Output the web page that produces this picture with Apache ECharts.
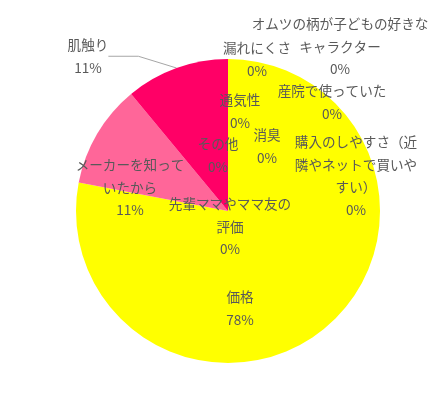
<!DOCTYPE html>
<html>
<head>
<meta charset="utf-8">
<script src="https://cdn.jsdelivr.net/npm/echarts@6/dist/echarts.min.js"></script>
<style>
  html, body { margin: 0; padding: 0; background: #fff; }
</style>
</head>
<body>
<div id="main" style="width: 438px;height:418px;"></div>
<script>
// categories (clockwise from 12 o'clock) and their share in %
var categories = ['価格', 'メーカーを知っていたから', '肌触り', '漏れにくさ',
  'オムツの柄が子どもの好きなキャラクター', '通気性', '産院で使っていた', '消臭', 'その他',
  '購入のしやすさ（近隣やネットで買いやすい）', '先輩ママやママ友の評価'];
var values = [78, 11, 11, 0, 0, 0, 0, 0, 0, 0, 0];
// how each label name is wrapped in the picture
var wrappedNames = ['価格', 'メーカーを知って\nいたから', '肌触り', '漏れにくさ',
  'オムツの柄が子どもの好きな\nキャラクター', '通気性', '産院で使っていた', '消臭', 'その他',
  '購入のしやすさ（近\n隣やネットで買いや\nすい）', '先輩ママやママ友の\n評価'];
var colors = ['#FFFF00', '#FF6699', '#FF0066', '#FFFF00', '#FFFF00', '#FFFF00',
  '#FFFF00', '#FFFF00', '#FFFF00', '#FFFF00', '#FFFF00'];

// label placement (centre x, centre y of first line)
var labelPos = [[240, 297], [130, 165], [88, 45], [257, 48], [340, 24], [240, 100],
  [332, 91], [267, 135], [218, 144], [356, 142], [230, 204]];
var LINE_H = 22.5;

var myChart = echarts.init(document.getElementById('main'));

var data = categories.map(function(name, i) {
  var item = {
    name: name,
    value: values[i],
    itemStyle: { color: colors[i] }
  };
  if (i === 2) {
    item.label = { position: 'outside' };
    item.labelLine = { show: true, lineStyle: { color: '#a6a6a6', width: 1 } };
  }
  return item;
});

var option = {
  backgroundColor: '#ffffff',
  animation: false,
  series: [{
    type: 'pie',
    center: [228, 211],
    radius: 152,
    startAngle: 90,
    clockwise: true,
    percentPrecision: 0,
    padAngle: 0,
    itemStyle: { borderWidth: 0 },
    emphasis: { disabled: true },
    label: {
      show: true,
      position: 'inside',
      color: '#595959',
      fontFamily: '"Noto Sans CJK JP", sans-serif',
      fontSize: 13.6,
      lineHeight: LINE_H,
      align: 'center',
      formatter: function(p) {
        return wrappedNames[p.dataIndex] + '\n' + p.percent + '%';
      }
    },
    labelLine: { show: false },
    labelLayout: function(params) {
      var pos = labelPos[params.dataIndex];
      return {
        x: pos[0],
        y: pos[1] - LINE_H / 2,
        align: 'center',
        verticalAlign: 'top'
      };
    },
    data: data
  }]
};

myChart.setOption(option);
</script>
</body>
</html>
